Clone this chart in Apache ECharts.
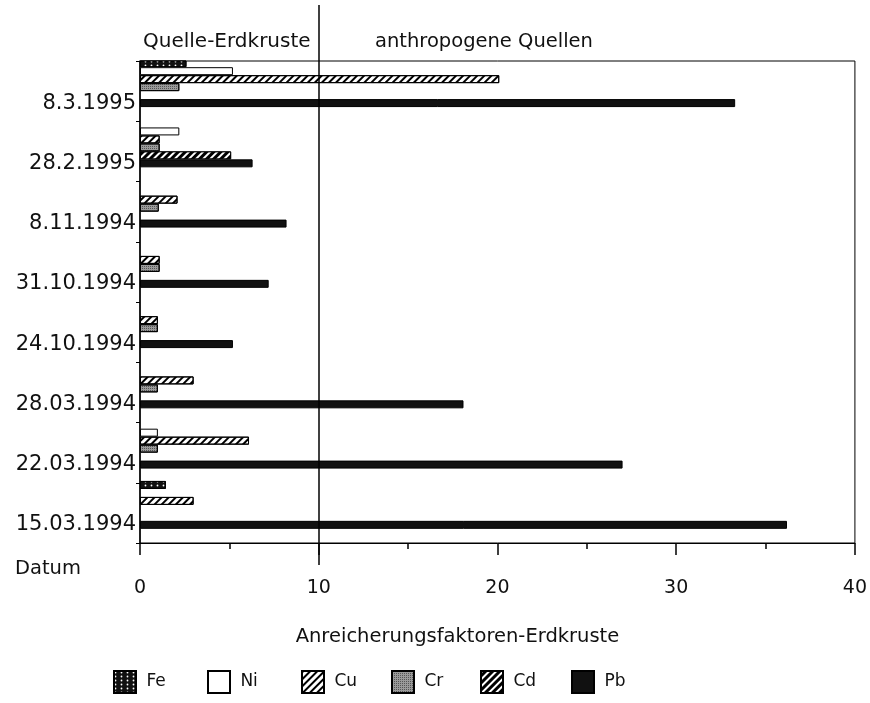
<!DOCTYPE html>
<html><head><meta charset="utf-8">
<script src="https://cdn.jsdelivr.net/npm/echarts@6/dist/echarts.min.js"></script>
<style>html,body{margin:0;padding:0;background:#fff}#c{width:870px;height:703px}</style>
</head><body><div id="c"></div>
<script>
// categories, top to bottom
const dates = ['8.3.1995','28.2.1995','8.11.1994','31.10.1994','24.10.1994','28.03.1994','22.03.1994','15.03.1994'];
const fe = [2.6, 0, 0, 0, 0, 0, 0, 1.45];
const ni = [5.2, 2.2, 0, 0, 0, 0, 1.0, 0];
const cu = [20.1, 1.1, 2.1, 1.1, 1.0, 3.0, 6.1, 3.0];
const cr = [2.2, 1.1, 1.05, 1.1, 1.0, 1.0, 1.0, 0];
const cd = [0, 5.1, 0, 0, 0, 0, 0, 0];
const pb = [33.3, 6.3, 8.2, 7.2, 5.2, 18.1, 27.0, 36.2];
const xTicks = [0, 10, 20, 30, 40];
const boundary = [10];
const metals = ['Fe','Ni','Cu','Cr','Cd','Pb'];

const FONT = 'DejaVu Sans';
const nz = a => a.map(v => v === 0 ? null : v);
const border = {borderColor:'#000', borderWidth:1};
const CAT_GAP = '-6%';

const chart = echarts.init(document.getElementById('c'), null, {renderer:'canvas'});
function bar(name, data, style){
  return {name, type:'bar', data:nz(data), xAxisIndex:0, yAxisIndex:0,
    barGap:'0%', barCategoryGap:CAT_GAP, itemStyle:Object.assign({}, border, style), silent:true};
}
const legendLefts = [108, 202, 296, 386, 475, 566];
chart.setOption({
  animation:false,
  textStyle:{fontFamily:FONT, color:'#111'},
  grid:[
    {left:140, right:14, top:61, bottom:160, show:true, borderColor:'#000', borderWidth:1},
    {left:140, right:14, top:5, bottom:138}
  ],
  xAxis:[
    {type:'value', gridIndex:0, min:xTicks[0], max:xTicks[xTicks.length-1], interval:10,
     axisLine:{show:true, lineStyle:{color:'#000', width:1}},
     axisTick:{show:true, length:12, lineStyle:{color:'#000', width:1.5}},
     minorTick:{show:true, splitNumber:2, length:6, lineStyle:{color:'#000', width:1.5}},
     splitLine:{show:false},
     axisLabel:{margin:36, fontSize:19, color:'#111', fontFamily:FONT},
     name:'Anreicherungsfaktoren-Erdkruste', nameLocation:'middle', nameGap:84,
     nameTextStyle:{fontSize:19.5, color:'#111', fontFamily:FONT, padding:[0,80,0,0]}},
    {type:'value', gridIndex:1, min:0, max:40, show:false}
  ],
  yAxis:[
    {type:'category', gridIndex:0, data:dates, inverse:true,
     axisLine:{lineStyle:{color:'#000', width:1.5}},
     axisTick:{show:true, length:4, lineStyle:{color:'#000'}},
     axisLabel:{fontSize:21, color:'#111', margin:4, fontFamily:FONT, verticalAlign:'top', lineHeight:22, padding:[1,0,0,0]}},
    {type:'value', gridIndex:1, min:0, max:1, show:false}
  ],
  legend: metals.map((m, i) => ({
    data:[m], left:legendLefts[i], top:665, itemWidth:22, itemHeight:22, icon:'rect',
    formatter:' {name}',
    textStyle:{fontSize:17, color:'#111', fontFamily:FONT},
    selectedMode:false
  })),
  graphic:[
    {type:'text', left:143, top:32, style:{text:'Quelle-Erdkruste', font:'20px '+FONT, fill:'#111'}},
    {type:'text', left:375, top:32, style:{text:'anthropogene Quellen', font:'19.5px '+FONT, fill:'#111'}},
    {type:'text', left:15, top:559, style:{text:'Datum', font:'19.5px '+FONT, fill:'#111'}}
  ],
  series:[
    bar('Fe', fe, {color:'#111', decal:{symbol:'circle', color:'#fff', symbolSize:0.6, dashArrayX:[3,3], dashArrayY:[3,1]}}),
    bar('Ni', ni, {color:'#fff'}),
    bar('Cu', cu, {color:'#fff', decal:{symbol:'rect', color:'#000', dashArrayX:[1,0], dashArrayY:[2,3], rotation:-Math.PI/4}}),
    bar('Cr', cr, {color:'#9a9a9a', decal:{symbol:'rect', color:'#555', dashArrayX:[1,1], dashArrayY:[1,1]}}),
    bar('Cd', cd, {color:'#000', decal:{symbol:'rect', color:'#fff', dashArrayX:[1,0], dashArrayY:[1.5,3], rotation:-Math.PI/4}}),
    bar('Pb', pb, {color:'#111'}),
    {name:'_gap1', type:'bar', data:dates.map(()=>null), barGap:'0%', barCategoryGap:CAT_GAP},
    {name:'_gap2', type:'bar', data:dates.map(()=>null), barGap:'0%', barCategoryGap:CAT_GAP},
    {name:'_divider', type:'line', xAxisIndex:1, yAxisIndex:1, data:[], silent:true,
     markLine:{silent:true, symbol:'none', label:{show:false},
       lineStyle:{color:'#000', width:1.5, type:'solid'},
       data:boundary.map(v=>({xAxis:v}))}}
  ]
});
</script></body></html>
